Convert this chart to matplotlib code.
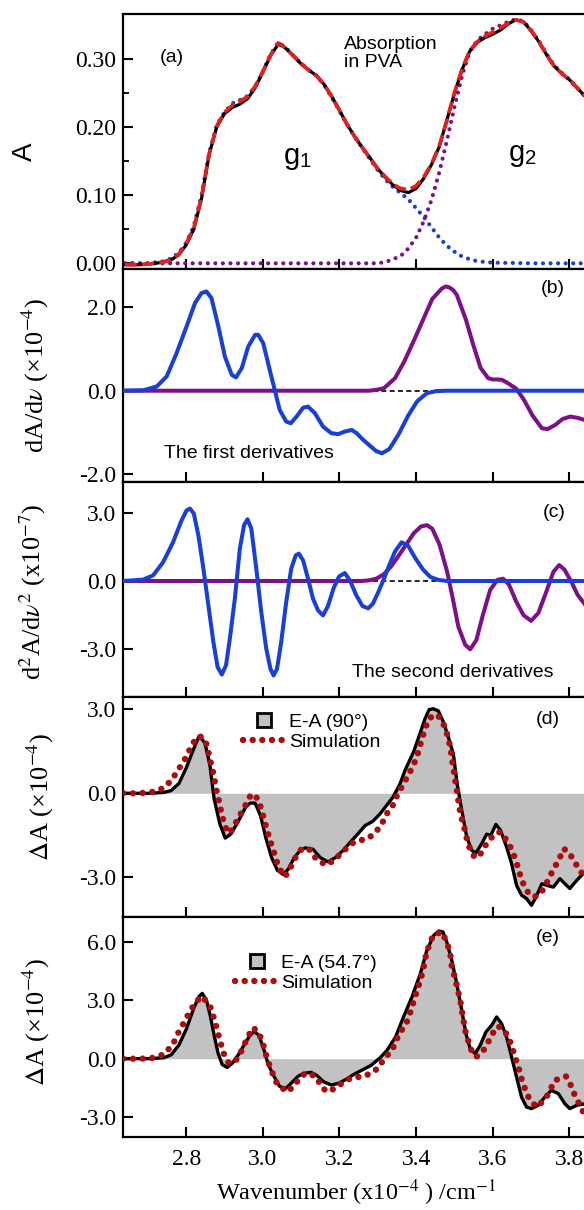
import numpy as np
import matplotlib.pyplot as plt
from matplotlib.lines import Line2D

plt.rcParams['font.family'] = 'Liberation Serif'
plt.rcParams['mathtext.fontset'] = 'stix'

# ---------------- data ----------------
# (a) absorption in PVA
x_abs = [2.64, 2.68, 2.72, 2.74, 2.76, 2.78, 2.80, 2.82, 2.84, 2.86, 2.88, 2.90, 2.92, 2.94,
         2.96, 2.98, 3.00, 3.02, 3.04, 3.05, 3.06, 3.08, 3.10, 3.12, 3.14, 3.16, 3.18, 3.20,
         3.22, 3.24, 3.26, 3.28, 3.30, 3.32, 3.34, 3.36, 3.38, 3.40, 3.42, 3.44, 3.46, 3.48,
         3.50, 3.52, 3.54, 3.56, 3.58, 3.60, 3.62, 3.64, 3.66, 3.68, 3.70, 3.72, 3.74, 3.76,
         3.78, 3.80, 3.82, 3.84]
a_meas = [-0.002, -0.002, 0.000, 0.002, 0.005, 0.012, 0.027, 0.050, 0.095, 0.160, 0.201, 0.220,
          0.229, 0.234, 0.242, 0.258, 0.281, 0.305, 0.322, 0.320, 0.316, 0.305, 0.293, 0.284,
          0.276, 0.263, 0.245, 0.225, 0.204, 0.186, 0.170, 0.155, 0.139, 0.126, 0.115, 0.107,
          0.104, 0.110, 0.125, 0.145, 0.171, 0.210, 0.250, 0.285, 0.312, 0.325, 0.332, 0.337,
          0.343, 0.352, 0.358, 0.355, 0.342, 0.326, 0.307, 0.290, 0.279, 0.270, 0.258, 0.246]
a_fit = [-0.002, -0.002, 0.000, 0.002, 0.005, 0.013, 0.029, 0.052, 0.097, 0.161, 0.202, 0.222,
         0.232, 0.238, 0.245, 0.260, 0.282, 0.306, 0.324, 0.321, 0.316, 0.305, 0.294, 0.284,
         0.276, 0.263, 0.245, 0.225, 0.204, 0.186, 0.170, 0.154, 0.139, 0.127, 0.116, 0.110,
         0.108, 0.114, 0.127, 0.146, 0.172, 0.210, 0.251, 0.286, 0.313, 0.326, 0.334, 0.340,
         0.346, 0.353, 0.358, 0.355, 0.342, 0.326, 0.307, 0.290, 0.279, 0.270, 0.258, 0.246]
x_g1 = [2.64, 2.70, 2.74, 2.76, 2.78, 2.80, 2.82, 2.84, 2.86, 2.88, 2.90, 2.92, 2.94, 2.96,
        2.98, 3.00, 3.02, 3.04, 3.06, 3.08, 3.10, 3.12, 3.14, 3.16, 3.18, 3.20, 3.22, 3.24,
        3.26, 3.28, 3.30, 3.32, 3.34, 3.36, 3.38, 3.40, 3.42, 3.44, 3.46, 3.48, 3.50, 3.52,
        3.54, 3.56, 3.60, 3.70, 3.84]
g1 = [0.0, 0.0, 0.003, 0.007, 0.015, 0.030, 0.055, 0.100, 0.162, 0.204, 0.222, 0.235, 0.240,
      0.246, 0.260, 0.282, 0.307, 0.325, 0.317, 0.305, 0.294, 0.284, 0.276, 0.262, 0.244,
      0.224, 0.204, 0.186, 0.169, 0.153, 0.137, 0.123, 0.112, 0.103, 0.094, 0.081, 0.068,
      0.053, 0.038, 0.026, 0.017, 0.010, 0.006, 0.003, 0.001, 0.0, 0.0]
x_g2 = [2.64, 3.00, 3.30, 3.32, 3.34, 3.36, 3.38, 3.40, 3.42, 3.44, 3.46, 3.48, 3.50, 3.52,
        3.54, 3.56, 3.58, 3.60, 3.62, 3.64, 3.66, 3.68, 3.70, 3.72, 3.74, 3.76, 3.78, 3.80,
        3.82, 3.84]
g2 = [0.0, 0.0, 0.0, 0.002, 0.006, 0.011, 0.022, 0.038, 0.062, 0.093, 0.133, 0.180, 0.230,
      0.276, 0.312, 0.328, 0.337, 0.345, 0.350, 0.355, 0.359, 0.356, 0.343, 0.327, 0.308,
      0.291, 0.280, 0.270, 0.258, 0.246]

# (b) first derivatives (x1e-4)
x_d1_g1 = [2.636, 2.688, 2.723, 2.749, 2.775, 2.801, 2.823, 2.840, 2.853, 2.866, 2.884, 2.901,
           2.919, 2.930, 2.945, 2.962, 2.980, 2.988, 3.001, 3.018, 3.031, 3.044, 3.061, 3.073,
           3.088, 3.105, 3.118, 3.136, 3.157, 3.179, 3.197, 3.214, 3.232, 3.245, 3.262, 3.277,
           3.296, 3.311, 3.330, 3.354, 3.379, 3.403, 3.428, 3.452, 3.481, 3.84]
d1_g1 = [0.0, 0.01, 0.10, 0.34, 0.90, 1.54, 2.10, 2.34, 2.38, 2.22, 1.54, 0.82, 0.38, 0.32, 0.54,
         1.06, 1.34, 1.34, 1.14, 0.50, 0.02, -0.46, -0.74, -0.78, -0.62, -0.41, -0.38, -0.54,
         -0.86, -1.02, -1.04, -0.98, -0.94, -1.02, -1.18, -1.30, -1.45, -1.50, -1.40, -1.05,
         -0.60, -0.25, -0.06, -0.01, 0.0, 0.0]
x_d1_g2 = [2.636, 3.277, 3.296, 3.316, 3.345, 3.369, 3.394, 3.418, 3.442, 3.467, 3.477, 3.486,
           3.496, 3.506, 3.530, 3.549, 3.568, 3.588, 3.600, 3.612, 3.624, 3.636, 3.661, 3.680,
           3.704, 3.728, 3.743, 3.763, 3.782, 3.802, 3.821, 3.839]
d1_g2 = [0.0, 0.0, 0.02, 0.06, 0.30, 0.70, 1.20, 1.70, 2.20, 2.45, 2.50, 2.48, 2.42, 2.30, 1.70,
         1.10, 0.55, 0.30, 0.27, 0.27, 0.26, 0.20, 0.05, -0.20, -0.60, -0.90, -0.92, -0.82,
         -0.68, -0.62, -0.65, -0.70]

# (c) second derivatives (x1e-7)
x_d2_g1 = [2.636, 2.688, 2.714, 2.740, 2.766, 2.788, 2.801, 2.810, 2.820, 2.832, 2.845, 2.858,
           2.871, 2.882, 2.893, 2.904, 2.914, 2.927, 2.940, 2.951, 2.960, 2.970, 2.983, 2.996,
           3.009, 3.020, 3.028, 3.037, 3.048, 3.061, 3.074, 3.086, 3.094, 3.105, 3.118, 3.131,
           3.144, 3.157, 3.170, 3.185, 3.199, 3.214, 3.228, 3.243, 3.260, 3.275, 3.287, 3.301,
           3.316, 3.330, 3.345, 3.362, 3.379, 3.398, 3.418, 3.437, 3.457, 3.481, 3.84]
d2_g1 = [0.0, 0.06, 0.25, 0.83, 1.71, 2.66, 3.10, 3.18, 2.96, 2.00, 0.54, -1.07, -2.68, -3.78,
         -4.11, -3.70, -2.53, -0.78, 1.42, 2.45, 2.71, 2.30, 0.54, -1.37, -2.98, -3.86, -4.15,
         -3.86, -2.68, -0.93, 0.54, 1.13, 1.20, 0.91, 0.10, -0.78, -1.29, -1.51, -1.10, -0.30,
         0.20, 0.35, 0.00, -0.60, -1.10, -1.20, -1.00, -0.50, 0.10, 0.70, 1.30, 1.70, 1.55, 1.00,
         0.50, 0.18, 0.05, 0.0, 0.0]
x_d2_g2 = [2.636, 3.257, 3.277, 3.296, 3.316, 3.335, 3.354, 3.374, 3.394, 3.413, 3.428, 3.442,
           3.461, 3.481, 3.496, 3.510, 3.528, 3.541, 3.557, 3.574, 3.593, 3.612, 3.627, 3.642,
           3.661, 3.680, 3.700, 3.719, 3.739, 3.758, 3.773, 3.787, 3.807, 3.821, 3.839]
d2_g2 = [0.0, 0.0, 0.03, 0.10, 0.30, 0.65, 1.10, 1.60, 2.10, 2.40, 2.45, 2.30, 1.60, 0.40, -0.80,
         -2.00, -2.80, -3.00, -2.60, -1.50, -0.40, 0.05, 0.10, -0.15, -0.90, -1.50, -1.75, -1.40,
         -0.50, 0.40, 0.70, 0.50, -0.10, -0.60, -1.00]

# (d) E-A (90 deg), x1e-4
x_d = [2.636, 2.703, 2.742, 2.761, 2.781, 2.800, 2.820, 2.834, 2.849, 2.862, 2.873, 2.888, 2.902,
       2.917, 2.936, 2.955, 2.967, 2.980, 2.994, 3.008, 3.023, 3.038, 3.053, 3.067, 3.082, 3.097,
       3.111, 3.131, 3.150, 3.170, 3.189, 3.209, 3.228, 3.248, 3.267, 3.287, 3.306, 3.340, 3.358,
       3.371, 3.393, 3.410, 3.423, 3.434, 3.445, 3.458, 3.471, 3.484, 3.497, 3.507, 3.519, 3.532,
       3.545, 3.556, 3.571, 3.584, 3.595, 3.608, 3.620, 3.636, 3.649, 3.662, 3.675, 3.688, 3.701,
       3.713, 3.728, 3.741, 3.758, 3.775, 3.788, 3.801, 3.819, 3.840]
ea_90 = [0.0, 0.0, 0.03, 0.10, 0.35, 0.90, 1.60, 2.05, 1.80, 1.00, -0.20, -1.10, -1.60, -1.45,
         -1.00, -0.50, -0.35, -0.35, -0.80, -1.60, -2.30, -2.75, -2.90, -2.70, -2.30, -2.05, -1.95,
         -2.00, -2.30, -2.45, -2.30, -2.05, -1.75, -1.45, -1.15, -1.00, -0.73, -0.13, 0.34, 0.82,
         1.47, 2.13, 2.66, 2.99, 3.02, 2.94, 2.55, 2.01, 1.41, 0.34, -0.61, -1.56, -2.04, -2.13,
         -1.80, -1.46, -1.50, -1.11, -1.32, -1.92, -2.51, -3.29, -3.64, -3.76, -4.00, -3.70,
         -3.23, -3.29, -3.35, -3.05, -3.23, -3.40, -3.11, -2.81]
x_sim_d = [2.636, 2.674, 2.696, 2.717, 2.739, 2.761, 2.779, 2.800, 2.815, 2.829, 2.842, 2.853,
           2.861, 2.871, 2.878, 2.886, 2.894, 2.904, 2.914, 2.926, 2.941, 2.955, 2.967, 2.977,
           2.988, 2.997, 3.006, 3.016, 3.027, 3.038, 3.048, 3.058, 3.070, 3.082, 3.092, 3.103,
           3.123, 3.140, 3.165, 3.187, 3.209, 3.233, 3.252, 3.275, 3.296, 3.313, 3.325, 3.339,
           3.349, 3.360, 3.371, 3.382, 3.393, 3.402, 3.409, 3.415, 3.424, 3.431, 3.437, 3.454,
           3.467, 3.476, 3.483, 3.489, 3.494, 3.498, 3.502, 3.507, 3.511, 3.515, 3.520, 3.526,
           3.531, 3.537, 3.546, 3.555, 3.568, 3.581, 3.594, 3.607, 3.620, 3.633, 3.646, 3.655,
           3.664, 3.673, 3.683, 3.694, 3.707, 3.720, 3.733, 3.746, 3.759, 3.772, 3.785, 3.798,
           3.811, 3.824, 3.840]
sim_d = [0.0, 0.0, 0.02, 0.06, 0.18, 0.45, 0.83, 1.29, 1.73, 2.02, 2.02, 1.76, 1.29, 0.71, 0.18,
         -0.30, -0.83, -1.25, -1.43, -1.13, -0.77, -0.42, -0.10, -0.02, -0.24, -0.60, -1.07,
         -1.55, -2.02, -2.50, -2.80, -2.98, -2.71, -2.38, -2.14, -1.96, -2.02, -2.36, -2.56,
         -2.38, -2.08, -1.79, -1.69, -1.61, -1.37, -1.02, -0.70, -0.43, -0.11, 0.17, 0.44, 0.72,
         1.00, 1.32, 1.63, 1.95, 2.31, 2.61, 2.70, 2.82, 2.61, 2.31, 2.01, 1.65, 1.18, 0.82,
         0.46, 0.05, -0.37, -0.67, -0.96, -1.26, -1.56, -1.86, -2.16, -2.31, -2.16, -1.86,
         -1.62, -1.44, -1.38, -1.62, -1.92, -2.21, -2.57, -2.99, -3.35, -3.58, -3.70, -3.64,
         -3.41, -3.05, -2.69, -2.39, -1.98, -2.10, -2.39, -2.69, -2.99]

# (e) E-A (54.7 deg), x1e-4
x_e = [2.636, 2.703, 2.742, 2.761, 2.781, 2.800, 2.820, 2.834, 2.842, 2.853, 2.863, 2.873, 2.883,
       2.894, 2.907, 2.922, 2.936, 2.951, 2.965, 2.977, 2.990, 3.004, 3.014, 3.029, 3.043, 3.058,
       3.072, 3.092, 3.107, 3.126, 3.140, 3.160, 3.179, 3.199, 3.218, 3.238, 3.262, 3.282, 3.306,
       3.324, 3.346, 3.367, 3.389, 3.411, 3.428, 3.446, 3.459, 3.470, 3.480, 3.493, 3.506, 3.519,
       3.530, 3.541, 3.554, 3.567, 3.582, 3.597, 3.610, 3.623, 3.636, 3.649, 3.662, 3.675, 3.688,
       3.701, 3.718, 3.736, 3.753, 3.771, 3.788, 3.801, 3.819, 3.840]
ea_547 = [0.0, 0.0, 0.05, 0.20, 0.70, 1.50, 2.60, 3.20, 3.35, 3.00, 2.20, 1.20, 0.30, -0.30,
          -0.45, -0.20, 0.20, 0.70, 1.15, 1.40, 1.20, 0.40, -0.30, -0.90, -1.40, -1.55, -1.30,
          -0.90, -0.75, -0.70, -0.85, -1.20, -1.35, -1.25, -1.05, -0.80, -0.55, -0.35, 0.05,
          0.43, 1.10, 2.14, 3.16, 4.36, 5.56, 6.33, 6.55, 6.50, 5.98, 5.04, 3.84, 2.48, 1.28,
          0.51, 0.26, 0.68, 1.37, 1.71, 2.14, 1.80, 1.11, 0.09, -0.94, -1.97, -2.48, -2.56,
          -2.39, -1.97, -1.62, -1.79, -2.31, -2.56, -2.39, -2.31]
x_sim_e = [2.636, 2.678, 2.708, 2.742, 2.766, 2.776, 2.790, 2.805, 2.820, 2.839, 2.853, 2.863,
           2.873, 2.886, 2.897, 2.912, 2.931, 2.946, 2.960, 2.975, 2.990, 3.000, 3.010, 3.020,
           3.035, 3.050, 3.065, 3.080, 3.095, 3.110, 3.125, 3.140, 3.155, 3.170, 3.190, 3.210,
           3.225, 3.245, 3.265, 3.285, 3.300, 3.315, 3.339, 3.354, 3.362, 3.374, 3.384, 3.393,
           3.402, 3.411, 3.418, 3.424, 3.428, 3.435, 3.444, 3.467, 3.480, 3.489, 3.493, 3.502,
           3.508, 3.515, 3.522, 3.528, 3.537, 3.546, 3.557, 3.576, 3.593, 3.609, 3.619, 3.639,
           3.649, 3.658, 3.667, 3.675, 3.684, 3.695, 3.714, 3.738, 3.762, 3.791, 3.806, 3.810,
           3.823, 3.838, 3.845]
sim_e = [0.0, 0.0, 0.02, 0.22, 0.75, 1.20, 1.70, 2.25, 2.75, 3.20, 2.95, 2.65, 2.05, 1.10, 0.30,
         -0.25, -0.05, 0.45, 1.10, 1.60, 1.30, 0.80, 0.10, -0.50, -1.20, -1.50, -1.70, -1.40,
         -1.05, -0.75, -0.80, -0.95, -1.50, -1.70, -1.50, -1.20, -1.05, -0.95, -0.90, -0.70,
         -0.50, -0.05, 0.51, 1.20, 1.45, 1.79, 2.34, 2.90, 3.47, 4.02, 4.53, 5.13, 5.56, 5.81,
         6.33, 6.50, 5.98, 5.39, 4.70, 4.10, 3.59, 2.99, 2.14, 1.45, 0.85, 0.34, 0.09, 0.43,
         1.03, 1.63, 1.63, 1.20, 0.68, 0.09, -0.43, -1.03, -1.54, -2.05, -2.48, -2.05, -1.11,
         -0.91, -1.45, -1.71, -2.22, -2.82, -3.20]

x_ticks = [2.8, 3.0, 3.2, 3.4, 3.6, 3.8]
y_ticks = [[0.0, 0.1, 0.2, 0.3], [-2.0, 0.0, 2.0], [-3.0, 0.0, 3.0], [-3.0, 0.0, 3.0],
           [-3.0, 0.0, 3.0, 6.0]]
y_fmt = ['%.2f', '%.1f', '%.1f', '%.1f', '%.1f']
y_lims = [(-0.0079, 0.3666), (-2.182, 2.926), (-5.108, 4.361), (-4.429, 3.429), (-4.0, 7.251)]

# ---------------- layout ----------------
W, H = 584, 1210
fig = plt.figure(figsize=(W / 100, H / 100), dpi=100)
edges = [14, 268.7, 481.7, 697.3, 917.3, 1136.7]   # panel borders in pixels from top
x_lo, x_hi = 2.636, 3.90
px_per_unit = 383.3
left_px = 123.3
axes = []
for i in range(5):
    top, bot = edges[i], edges[i + 1]
    ax = fig.add_axes([left_px / W, 1 - bot / H, (x_hi - x_lo) * px_per_unit / W, (bot - top) / H])
    ax.set_xlim(x_lo, x_hi)
    ax.set_ylim(*y_lims[i])
    ax.set_xticks(x_ticks)
    ax.set_yticks(y_ticks[i])
    ax.set_yticklabels([y_fmt[i] % v for v in y_ticks[i]])
    ax.tick_params(direction='in', length=7, width=1.5, labelsize=17, pad=5)
    ax.tick_params(axis='x', pad=9)
    if i < 4:
        ax.tick_params(axis='x', labelbottom=False)
    for s in ax.spines.values():
        s.set_linewidth(1.6)
    axes.append(ax)

blue = '#1a3fd6'
purple = '#7d0f87'
red = '#e3201b'
dred = '#ae0c0c'
sans = 'Liberation Sans'
dots_small = (0, (0.01, 1.8))
dots_big = (0, (0.01, 1.5))

# (a)
ax = axes[0]
ax.set_yticks([0.05, 0.15, 0.25], minor=True)
ax.tick_params(which='minor', direction='in', length=4, width=1.3)
ax.plot(x_g1, g1, color=blue, lw=3.0, ls=dots_small, dash_capstyle='round', zorder=2)
ax.plot(x_g2, g2, color=purple, lw=3.0, ls=dots_small, dash_capstyle='round', zorder=2)
ax.plot(x_abs, a_meas, color='black', lw=2.3, zorder=3)
ax.plot(x_abs, a_fit, color=red, lw=2.7, ls=(0, (3.2, 1.4)), zorder=4)
ax.text(2.763, 0.303, '(a)', family=sans, fontsize=14, ha='center', va='center')
ax.text(3.212, 0.334, 'Absorption\nin PVA', family=sans, fontsize=14, ha='left', va='top',
        linespacing=1.05)
ax.text(3.053, 0.146, r'g$_\mathregular{1}$', family=sans, fontsize=21, ha='left', va='baseline')
ax.text(3.640, 0.150, r'g$_\mathregular{2}$', family=sans, fontsize=21, ha='left', va='baseline')

# (b)
ax = axes[1]
ax.axhline(0, color='black', lw=1.2, ls=(0, (3, 2)), zorder=1)
ax.plot(x_d1_g2, d1_g2, color=purple, lw=2.9, zorder=2)
ax.plot(x_d1_g1, d1_g1, color=blue, lw=2.9, zorder=3)
ax.text(3.757, 2.46, '(b)', family=sans, fontsize=14, ha='center', va='center')
ax.text(2.742, -1.50, 'The first derivatives', family=sans, fontsize=14, ha='left', va='center')

# (c)
ax = axes[2]
ax.axhline(0, color='black', lw=1.2, ls=(0, (3, 2)), zorder=1)
ax.plot(x_d2_g2, d2_g2, color=purple, lw=2.9, zorder=2)
ax.plot(x_d2_g1, d2_g1, color=blue, lw=2.9, zorder=3)
ax.text(3.759, 2.99, '(c)', family=sans, fontsize=14, ha='center', va='center')
ax.text(3.233, -4.0, 'The second derivatives', family=sans, fontsize=14, ha='left', va='center')

# (d) and (e)
for ax, xe, ye, xs, ys, lab, tag, ty, anchor in [
        (axes[3], x_d, ea_90, x_sim_d, sim_d, 'E-A (90°)', '(d)', 2.63, (0.219, 0.99)),
        (axes[4], x_e, ea_547, x_sim_e, sim_e, 'E-A (54.7°)', '(e)', 6.23, (0.203, 0.895))]:
    ax.fill_between(xe, ye, 0, color='#c2c2c2', lw=0, zorder=1)
    ax.plot(xe, ye, color='black', lw=2.4, zorder=2)
    ax.plot(xs, ys, color=dred, lw=4.6, ls=dots_big, dash_capstyle='round', zorder=3)
    ax.text(3.744, ty, tag, family=sans, fontsize=14, ha='center', va='center')
    handles = [Line2D([], [], marker='s', ms=10, mfc='#c2c2c2', mec='black', mew=2, ls='none'),
               Line2D([], [], color=dred, lw=4.6, ls=dots_big, dash_capstyle='round')]
    ax.legend(handles, [lab, 'Simulation'], loc='upper left', bbox_to_anchor=anchor,
              frameon=False, prop={'family': sans, 'size': 14}, handlelength=2.2,
              handletextpad=0.15, labelspacing=0.15, borderpad=0.2)

# axis labels
fig.text(25 / W, 1 - 152 / H, 'A', family=sans, fontsize=20, rotation=90, ha='center', va='center')
fig.text(35 / W, 1 - 376 / H, r'dA/d$\nu$ (×10$^{-4}$)', fontsize=19, rotation=90,
         ha='center', va='center')
fig.text(33 / W, 1 - 592 / H, r'd$^2$A/d$\nu^2$ (x10$^{-7}$)', fontsize=19, rotation=90,
         ha='center', va='center')
fig.text(40 / W, 1 - 797 / H, r'$\Delta$A (×10$^{-4}$)', fontsize=19, rotation=90,
         ha='center', va='center')
fig.text(36 / W, 1 - 1022 / H, r'$\Delta$A (×10$^{-4}$)', fontsize=19, rotation=90,
         ha='center', va='center')
fig.text(356 / W, 1 - 1193 / H, r'Wavenumber (x10$^{-4}$ ) /cm$^{-1}$', fontsize=17.5,
         ha='center', va='center')

fig.savefig('out.png', dpi=100)
